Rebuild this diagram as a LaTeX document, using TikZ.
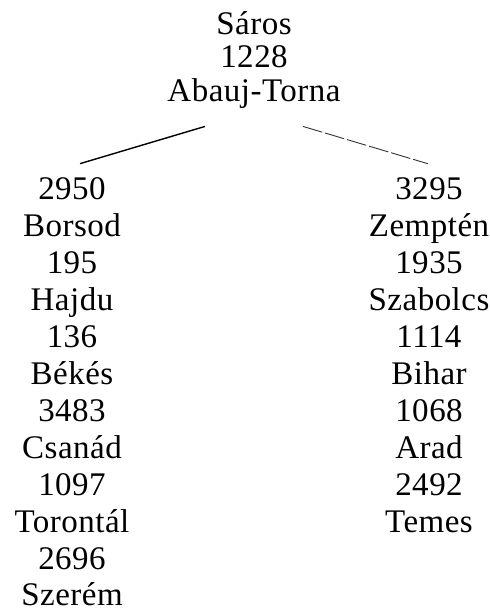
\documentclass[tikz,border=0pt]{standalone}
\usepackage{fontspec}
\setmainfont{Liberation Serif}[LetterSpace=1.5]
\usepackage{tikz}

\begin{document}
\begin{tikzpicture}[x=0.5pt, y=-0.5pt,
    county/.style={inner sep=0pt, anchor=base, font=\fontsize{16.5}{19}\selectfont},
    branch/.style={draw, line width=0.7pt},
    faint/.style={draw=black!80, line width=0.45pt, dash pattern=on 10pt off 1.5pt}]
    \useasboundingbox (0,0) rectangle (490,610);

    \node[county] (saros) at (254,35) {Sáros};
    \node[county] (sarosnum) at (254,68) {1228};
    \node[county] (abauj) at (254,102) {Abauj-Torna};

    \node[county] (lone) at (72,199) {2950};
    \node[county] (borsod) at (72,236) {Borsod};
    \node[county] (ltwo) at (72,273) {195};
    \node[county] (hajdu) at (72,310) {Hajdu};
    \node[county] (lthree) at (72,347) {136};
    \node[county] (bekes) at (72,384) {Békés};
    \node[county] (lfour) at (72,421) {3483};
    \node[county] (csanad) at (72,458) {Csanád};
    \node[county] (lfive) at (72,495) {1097};
    \node[county] (torontal) at (72,532) {Torontál};
    \node[county] (lsix) at (72,569) {2696};
    \node[county] (szerem) at (72,605) {Szerém};

    \node[county] (rone) at (429,199) {3295};
    \node[county] (zempten) at (429,236) {Zemptén};
    \node[county] (rtwo) at (429,273) {1935};
    \node[county] (szabolcs) at (429,310) {Szabolcs};
    \node[county] (rthree) at (429,347) {1114};
    \node[county] (bihar) at (429,384) {Bihar};
    \node[county] (rfour) at (429,421) {1068};
    \node[county] (arad) at (429,458) {Arad};
    \node[county] (rfive) at (429,495) {2492};
    \node[county] (temes) at (429,532) {Temes};

    \draw[branch] ([shift={(-49,17)}]abauj.south) -- ([shift={(8,-13)}]lone.north);
    \draw[faint] ([shift={(49,17)}]abauj.south) -- ([shift={(-1,-13)}]rone.north);
\end{tikzpicture}
\end{document}
